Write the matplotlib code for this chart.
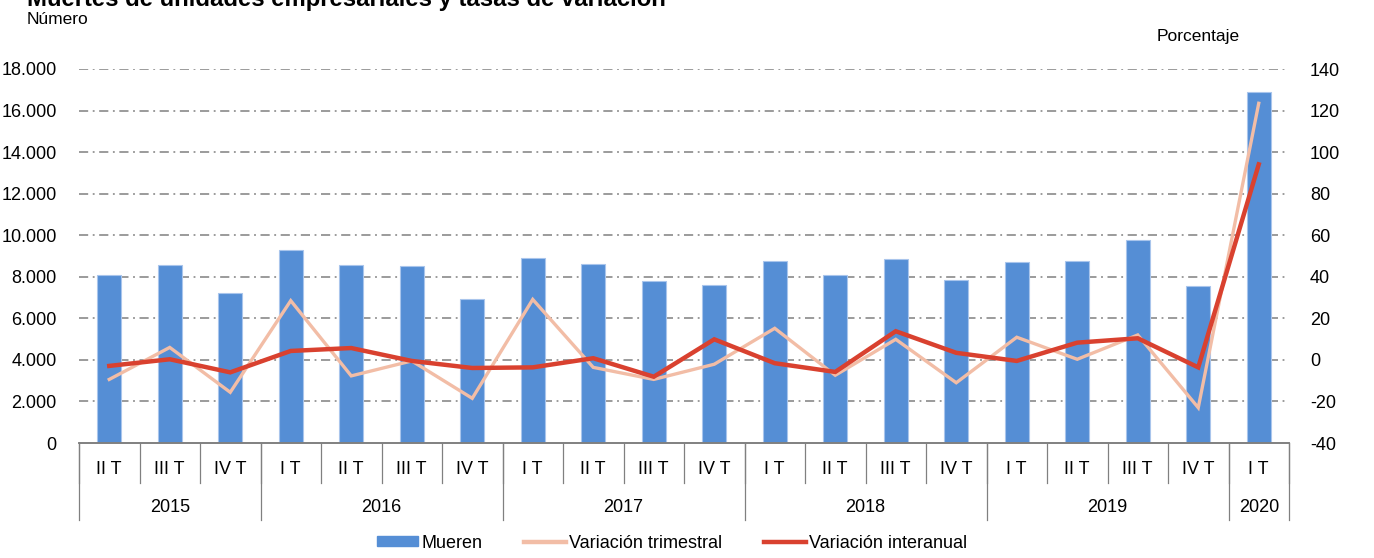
import numpy as np
import matplotlib
matplotlib.use("Agg")
import matplotlib.pyplot as plt
from matplotlib.patches import Patch
from matplotlib.lines import Line2D

plt.rcParams['font.family'] = ['Liberation Sans', 'DejaVu Sans']

quarters = ["II T", "III T", "IV T",
            "I T", "II T", "III T", "IV T",
            "I T", "II T", "III T", "IV T",
            "I T", "II T", "III T", "IV T",
            "I T", "II T", "III T", "IV T",
            "I T"]
years = ["2015", "2016", "2017", "2018", "2019", "2020"]
year_counts = [3, 4, 4, 4, 4, 1]

mueren = [8080, 8560, 7220, 9290, 8550, 8520, 6930,
          8910, 8600, 7790, 7600, 8750, 8080, 8850, 7840,
          8710, 8740, 9760, 7560, 16870]
var_trimestral = [-9.4, 6.0, -15.6, 28.5, -7.7, -0.5, -18.5,
                  29.1, -3.6, -9.4, -2.1, 15.2, -7.4, 9.9, -11.0,
                  10.9, 0.3, 12.0, -23.0, 123.5]
var_interanual = [-2.9, 0.3, -6.0, 4.3, 5.7, -0.5, -3.9,
                  -3.6, 0.8, -8.1, 9.9, -1.6, -5.8, 13.8, 3.4,
                  -0.5, 8.3, 10.4, -3.6, 94.1]

left_ticks = [0, 2000, 4000, 6000, 8000, 10000, 12000, 14000, 16000, 18000]
right_ticks = [-40, -20, 0, 20, 40, 60, 80, 100, 120, 140]

bar_color = '#558ED5'
tri_color = '#F2BDA6'
int_color = '#D9412F'
grid_color = '#808080'
fs = 13

fig = plt.figure(figsize=(13.74, 5.58), dpi=100)
ax = fig.add_axes([79/1374, 115/558, 1210/1374, 374/558])
ax2 = ax.twinx()

x = np.arange(len(mueren))
ax.bar(x, mueren, width=0.4, color=bar_color, edgecolor='#A9C5EC', linewidth=0.8, zorder=2)
ax.set_xlim(-0.5, len(mueren) - 0.5)
ax.set_ylim(left_ticks[0], left_ticks[-1])
ax.set_yticks(left_ticks)
ax.set_yticklabels([f"{v:,}".replace(",", ".") for v in left_ticks], fontsize=fs)
ax.tick_params(axis='y', length=0, pad=16)
for y in left_ticks[1:]:
    ax.axhline(y, color=grid_color, lw=1.1, ls=(0, (6, 3, 1.2, 3)), zorder=1)

ax2.plot(x, var_trimestral, color=tri_color, lw=2.4, zorder=3, solid_joinstyle='miter')
ax2.plot(x, var_interanual, color=int_color, lw=3.2, zorder=4, solid_joinstyle='miter')
ax2.set_ylim(right_ticks[0], right_ticks[-1])
ax2.set_yticks(right_ticks)
ax2.set_yticklabels([str(v) for v in right_ticks], fontsize=fs)
ax2.tick_params(axis='y', length=0, pad=15)
ax.set_zorder(ax2.get_zorder() - 1)
ax2.patch.set_visible(False)
ax.patch.set_visible(True)

for a in (ax, ax2):
    for s in ('top', 'left', 'right'):
        a.spines[s].set_visible(False)
    a.spines['bottom'].set_color(grid_color)
    a.spines['bottom'].set_linewidth(1.2)
ax.set_xticks([])
ax2.set_xticks([])

trans = ax.get_xaxis_transform()
q_y = -27/374
q_end = -40/374
y_y = -65/374
y_end = -77/374
for i, q in enumerate(quarters):
    ax.text(x[i], q_y, q, transform=trans, ha='center', va='center', fontsize=fs)
for i in range(len(quarters) + 1):
    ax.plot([i - 0.5, i - 0.5], [0, q_end], transform=trans, color=grid_color,
            lw=0.9, clip_on=False)
start = 0
bounds = [0]
for yr, n in zip(years, year_counts):
    center = start + (n - 1) / 2
    ax.text(center, y_y, yr, transform=trans, ha='center', va='center', fontsize=fs)
    start += n
    bounds.append(start)
for b in bounds:
    ax.plot([b - 0.5, b - 0.5], [0, y_end], transform=trans, color=grid_color,
            lw=0.9, clip_on=False)

fig.text(27/1374, 1 - 6/558, "Muertes de unidades empresariales y tasas de variación",
         fontsize=17.2, fontweight='bold', ha='left', va='baseline')
fig.text(27/1374, 1 - 19/558, "Número", fontsize=12.5, ha='left', va='center')
fig.text(1198/1374, 1 - 37/558, "Porcentaje", fontsize=12.5, ha='center', va='center')

handles = [Patch(facecolor=bar_color, edgecolor=bar_color),
           Line2D([0], [0], color=tri_color, lw=3.2),
           Line2D([0], [0], color=int_color, lw=3.2)]
labels = ["Mueren", "Variación trimestral", "Variación interanual"]
fig.legend(handles, labels, loc='center', bbox_to_anchor=(672/1374, 1 - 543/558),
           ncol=3, frameon=False, fontsize=fs, handlelength=2.3, handleheight=0.5,
           handletextpad=0.2, columnspacing=2.3)

fig.savefig("out.png", dpi=100)
